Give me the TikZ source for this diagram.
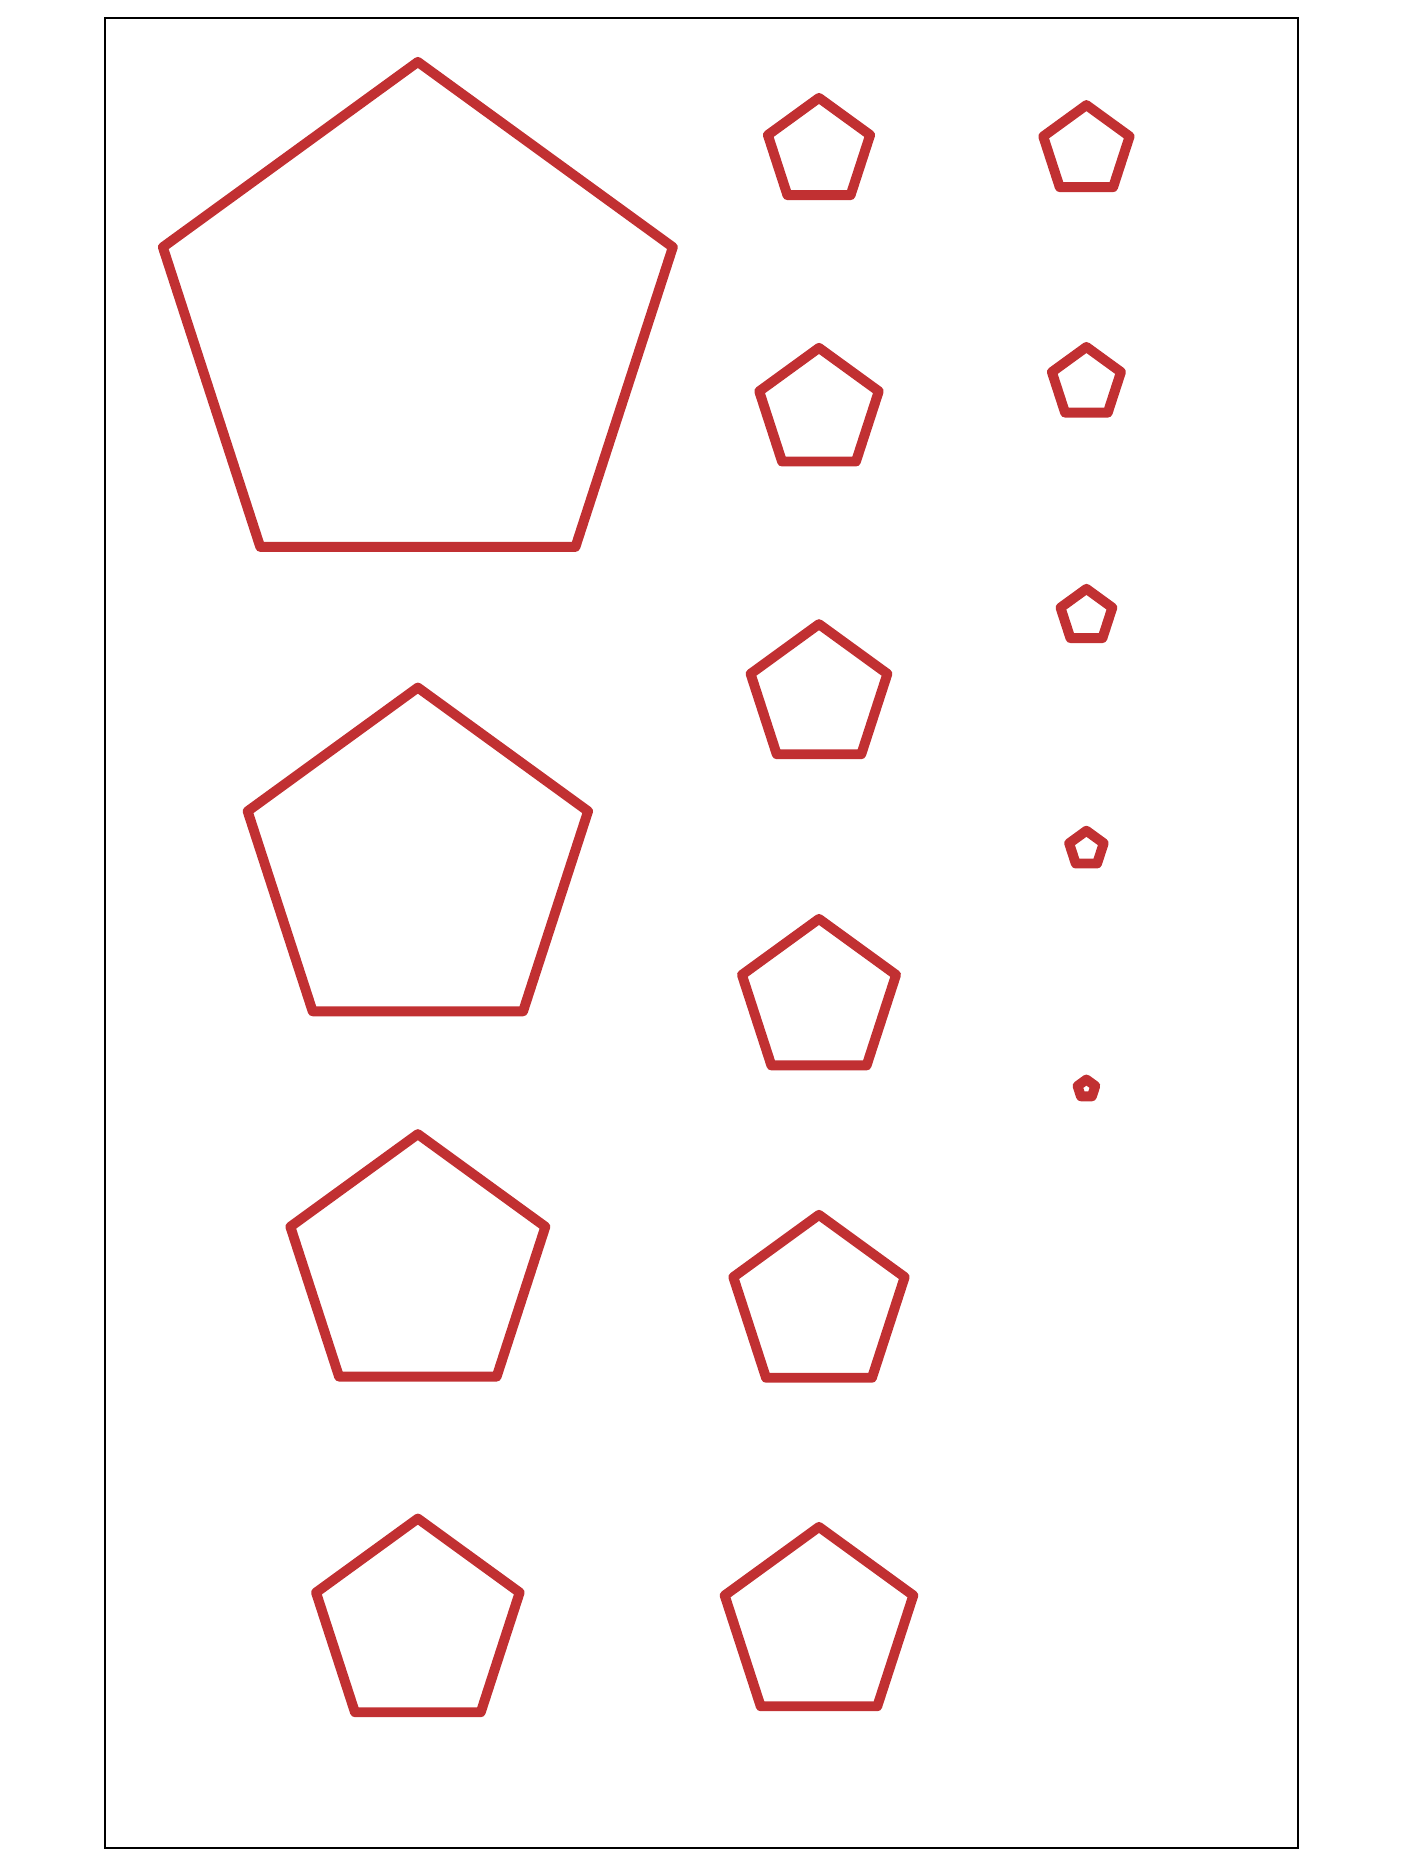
\documentclass[tikz,border=0pt]{standalone}
\usetikzlibrary{shapes.geometric}
\definecolor{pentred}{RGB}{193,48,50}

\begin{document}
\begin{tikzpicture}[
    x=0.01cm, y=-0.01cm,
    % --- Styles ---
    % Red pentagon outline, #1 = circumradius
    pent/.style={regular polygon, regular polygon sides=5, draw=pentred,
        line width=2.35pt, line join=round, inner sep=0pt, outer sep=0pt,
        minimum size=#1*0.02cm},
    frame line/.style={draw=black, line width=0.5pt}
]

%================CONFIGURATION================
% Column centres (x)
\def\colA{350}
\def\colB{686}
\def\colC{910}
%=============================================

\useasboundingbox (0,0) rectangle (1176,1568);

% Outer frame
\draw[frame line] (88,15) rectangle (1087,1548);

% --- Left column: shrinking big pentagons ---
\foreach \r/\y [count=\c] in {224.4/276.4, 149.8/725.8, 112.2/1062.2, 89.6/1361.6} {
    \node[pent=\r] (A\c) at (\colA,\y) {};
}

% --- Middle column: growing pentagons ---
\foreach \r/\y [count=\c] in {45/127, 52.6/344, 60.2/583, 67.8/837.5, 75.4/1093, 83/1362} {
    \node[pent=\r] (B\c) at (\colB,\y) {};
}

% --- Right column: shrinking small pentagons ---
\foreach \r/\y [count=\c] in {38/126, 30.4/321, 22.8/516, 15.2/711, 7.8/912} {
    \node[pent=\r] (C\c) at (\colC,\y) {};
}

\end{tikzpicture}
\end{document}
